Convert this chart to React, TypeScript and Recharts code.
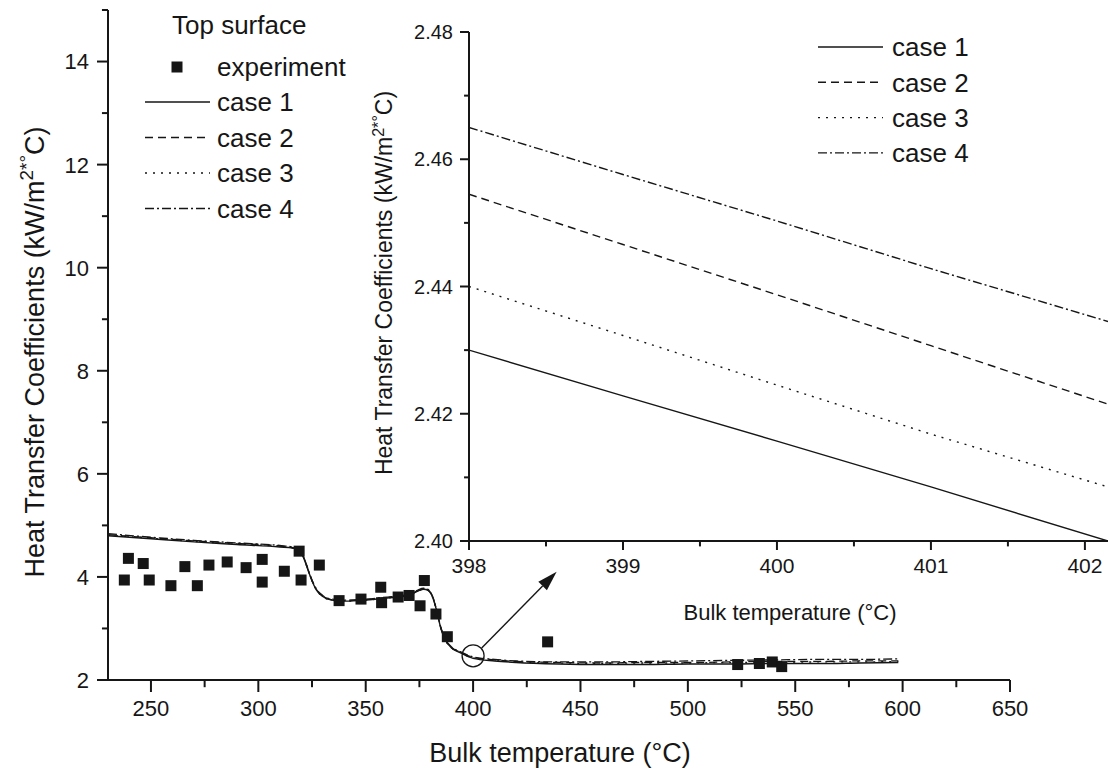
import React from 'react';
import {
  ComposedChart,
  LineChart,
  Line,
  Scatter,
  XAxis,
  YAxis,
  ReferenceDot,
  ReferenceLine,
  Legend,
} from 'recharts';

const FONT = '"Liberation Sans", Arial, Helvetica, sans-serif';
const INK = '#161616';

// ---- main chart: simulated curves (bulk temperature, °C) ----
const mainTemps = [
  230, 250, 270, 290, 310, 316, 319, 321, 323, 325, 327, 330, 334, 340, 350, 360, 370, 374, 377,
  379, 381, 383, 385, 387, 390, 394, 400, 410, 420, 440, 460, 480, 500, 520, 540, 560, 580, 598,
];
const case1Main = [
  4.8, 4.74, 4.68, 4.63, 4.58, 4.56, 4.52, 4.38, 4.15, 3.92, 3.75, 3.62, 3.55, 3.53, 3.55, 3.59, 3.64,
  3.72, 3.76, 3.74, 3.62, 3.35, 3.0, 2.78, 2.62, 2.53, 2.42, 2.37, 2.34, 2.31, 2.3, 2.3, 2.31, 2.31,
  2.32, 2.32, 2.33, 2.34,
];
const case2Main = [
  4.82, 4.76, 4.7, 4.65, 4.6, 4.57, 4.53, 4.39, 4.16, 3.93, 3.76, 3.63, 3.56, 3.54, 3.56, 3.6, 3.65,
  3.73, 3.77, 3.75, 3.63, 3.36, 3.01, 2.79, 2.63, 2.54, 2.44, 2.39, 2.36, 2.34, 2.33, 2.34, 2.34,
  2.35, 2.36, 2.36, 2.37, 2.37,
];
const case3Main = [
  4.81, 4.75, 4.69, 4.64, 4.59, 4.56, 4.52, 4.38, 4.15, 3.92, 3.75, 3.62, 3.55, 3.53, 3.55, 3.59,
  3.64, 3.72, 3.76, 3.74, 3.62, 3.35, 3.0, 2.78, 2.62, 2.53, 2.43, 2.38, 2.35, 2.33, 2.32, 2.33, 2.33,
  2.34, 2.34, 2.35, 2.35, 2.36,
];
const case4Main = [
  4.84, 4.77, 4.71, 4.66, 4.61, 4.58, 4.54, 4.4, 4.17, 3.94, 3.77, 3.64, 3.57, 3.55, 3.57, 3.61, 3.66,
  3.74, 3.78, 3.76, 3.64, 3.37, 3.02, 2.8, 2.64, 2.55, 2.45, 2.4, 2.37, 2.35, 2.35, 2.36, 2.37, 2.38,
  2.39, 2.4, 2.4, 2.41,
];

// ---- main chart: experiment ----
const expTemps = [
  237.6, 239.5, 246.4, 249.2, 259.3, 265.8, 271.6, 277.0, 285.5, 294.3, 301.8, 301.8, 312.1, 319.0,
  319.9, 328.4, 337.6, 347.8, 357.0, 357.4, 365.1, 370.2, 375.3, 377.3, 382.7, 388.0, 434.7, 523.2,
  533.3, 539.3, 543.7,
];
const expHtc = [
  3.94, 4.36, 4.26, 3.94, 3.83, 4.2, 3.83, 4.23, 4.29, 4.18, 4.34, 3.9, 4.11, 4.5, 3.94, 4.23, 3.54,
  3.57, 3.8, 3.5, 3.61, 3.64, 3.44, 3.93, 3.28, 2.84, 2.74, 2.3, 2.32, 2.35, 2.26,
];

// ---- inset (zoom around 400 °C) ----
const insetTemps = [398, 399, 400, 401, 402.15];
const case1Inset = [2.43, 2.4228, 2.4157, 2.4085, 2.4];
const case2Inset = [2.4545, 2.4466, 2.4387, 2.4307, 2.4215];
const case3Inset = [2.44, 2.4323, 2.4245, 2.4168, 2.4085];
const case4Inset = [2.465, 2.4576, 2.4503, 2.4428, 2.4345];

// ticks
const mainXMajor = [250, 300, 350, 400, 450, 500, 550, 600, 650];
const mainXMinor = [275, 325, 375, 425, 475, 525, 575, 625];
const mainYMajor = [2, 4, 6, 8, 10, 12, 14];
const mainYMinor = [3, 5, 7, 9, 11, 13, 15];
const insetXMajor = [398, 399, 400, 401, 402];
const insetXMinor = [398.5, 399.5, 400.5, 401.5];
const insetYMajor = [2.4, 2.42, 2.44, 2.46, 2.48];
const insetYMinor = [2.41, 2.43, 2.45, 2.47];

const seriesNames = ['case 1', 'case 2', 'case 3', 'case 4'];
const dashes = ['', '8 5', '2 6', '9 3 2 3'];

const mainRows = mainTemps.map((t, i) => ({
  t,
  c1: case1Main[i],
  c2: case2Main[i],
  c3: case3Main[i],
  c4: case4Main[i],
}));
const expRows = expTemps.map((t, i) => ({ t, h: expHtc[i] }));
const insetRows = insetTemps.map((t, i) => ({
  t,
  c1: case1Inset[i],
  c2: case2Inset[i],
  c3: case3Inset[i],
  c4: case4Inset[i],
}));

const makeYTick = (major: number[], fontSize: number, len: number, gap: number, fmt: (v: number) => string) =>
  (props: any) => {
    const { x, y, payload } = props;
    const isMajor = major.includes(payload.value);
    return (
      <g>
        <line x1={x - (isMajor ? len : len * 0.55)} x2={x} y1={y} y2={y} stroke={INK} strokeWidth={2} />
        {isMajor && (
          <text x={x - gap} y={y} dy="0.36em" textAnchor="end" fontSize={fontSize} fontFamily={FONT} fill={INK}>
            {fmt(payload.value)}
          </text>
        )}
      </g>
    );
  };

const makeXTick = (major: number[], fontSize: number, len: number, base: number) => (props: any) => {
  const { x, y, payload } = props;
  const isMajor = major.includes(payload.value);
  return (
    <g>
      <line x1={x} x2={x} y1={y} y2={y + (isMajor ? len : len * 0.6)} stroke={INK} strokeWidth={2} />
      {isMajor && (
        <text x={x} y={y + base} textAnchor="middle" fontSize={fontSize} fontFamily={FONT} fill={INK}>
          {payload.value}
        </text>
      )}
    </g>
  );
};

const Arrow = (props: any) => {
  const { x1, y1, x2, y2 } = props;
  const a = Math.atan2(y2 - y1, x2 - x1);
  const L = 20;
  const W = 6;
  const bx = x2 - L * Math.cos(a);
  const by = y2 - L * Math.sin(a);
  const px = -Math.sin(a) * W;
  const py = Math.cos(a) * W;
  return (
    <g>
      <line x1={x1} y1={y1} x2={bx} y2={by} stroke={INK} strokeWidth={1.4} />
      <polygon points={`${x2},${y2} ${bx + px},${by + py} ${bx - px},${by - py}`} fill={INK} />
    </g>
  );
};

const MainLegend = () => (
  <svg width={360} height={230} style={{ overflow: 'visible' }}>
    <text x={172} y={25} dy="0.36em" fontSize={26} fontFamily={FONT} fill={INK}>
      Top surface
    </text>
    <rect x={171.5} y={61.5} width={11} height={11} fill={INK} />
    <text x={217} y={67} dy="0.36em" fontSize={26} fontFamily={FONT} fill={INK}>
      experiment
    </text>
    {seriesNames.map((n, i) => (
      <g key={n}>
        <line x1={145} x2={210} y1={102 + i * 35.5} y2={102 + i * 35.5} stroke={INK} strokeWidth={1.4} strokeDasharray={dashes[i]} />
        <text x={217} y={102 + i * 35.5} dy="0.36em" fontSize={26} fontFamily={FONT} fill={INK}>
          {n}
        </text>
      </g>
    ))}
  </svg>
);

const InsetLegend = () => (
  <svg width={700} height={180} style={{ overflow: 'visible' }}>
    {seriesNames.map((n, i) => (
      <g key={n}>
        <line x1={458} x2={523} y1={47 + i * 35.3} y2={47 + i * 35.3} stroke={INK} strokeWidth={1.4} strokeDasharray={dashes[i]} />
        <text x={532} y={47 + i * 35.3} dy="0.36em" fontSize={26} fontFamily={FONT} fill={INK}>
          {n}
        </text>
      </g>
    ))}
  </svg>
);

const YTitle = ({ cx, cy, size }: { cx: number; cy: number; size: number }) => (
  <text
    x={cx}
    y={cy}
    transform={`rotate(-90 ${cx} ${cy})`}
    textAnchor="middle"
    dy="0.36em"
    fontSize={size}
    fontFamily={FONT}
    fill={INK}
  >
    Heat Transfer Coefficients (kW/m
    <tspan dy={-size * 0.38} fontSize={size * 0.7}>2</tspan>
    <tspan fontSize={size * 0.7}>*°</tspan>
    <tspan dy={size * 0.38}>C)</tspan>
  </text>
);

const XTitle = ({ cx, cy, size }: { cx: number; cy: number; size: number }) => (
  <text x={cx} y={cy} textAnchor="middle" dy="0.36em" fontSize={size} fontFamily={FONT} fill={INK}>
    Bulk temperature (°C)
  </text>
);

export default function App() {
  return (
    <div style={{ position: 'absolute', left: 0, top: 0, width: 1109, height: 778, background: '#fff', fontFamily: FONT }}>
      <ComposedChart width={1109} height={778} data={mainRows} margin={{ top: 10, right: 99, bottom: 38, left: 48 }}>
        <XAxis
          type="number"
          dataKey="t"
          domain={[230, 650]}
          allowDataOverflow
          ticks={[...mainXMajor, ...mainXMinor].sort((a, b) => a - b)}
          interval={0}
          tickSize={0}
          tickMargin={0}
          tickLine={false}
          height={60}
          axisLine={{ stroke: INK, strokeWidth: 2 }}
          tick={makeXTick(mainXMajor, 22, 12, 36)}
          label={() => <XTitle cx={560} cy={752} size={27} />}
        />
        <YAxis
          type="number"
          domain={[2, 15]}
          allowDataOverflow
          ticks={[...mainYMajor, ...mainYMinor].sort((a, b) => a - b)}
          interval={0}
          tickSize={0}
          tickMargin={0}
          tickLine={false}
          width={60}
          axisLine={{ stroke: INK, strokeWidth: 2 }}
          tick={makeYTick(mainYMajor, 22, 11, 19, (v) => String(v))}
          label={() => <YTitle cx={34} cy={352} size={27} />}
        />
        <Line type="monotone" dataKey="c1" stroke={INK} strokeWidth={1.4} dot={false} isAnimationActive={false} />
        <Line type="monotone" dataKey="c2" stroke={INK} strokeWidth={1.3} strokeDasharray={dashes[1]} dot={false} isAnimationActive={false} />
        <Line type="monotone" dataKey="c3" stroke={INK} strokeWidth={1.3} strokeDasharray={dashes[2]} dot={false} isAnimationActive={false} />
        <Line type="monotone" dataKey="c4" stroke={INK} strokeWidth={1.3} strokeDasharray={dashes[3]} dot={false} isAnimationActive={false} />
        <Scatter
          data={expRows}
          dataKey="h"
          isAnimationActive={false}
          shape={(p: any) => <rect x={p.cx - 5.5} y={p.cy - 5.5} width={11} height={11} fill={INK} />}
        />
        <ReferenceDot x={400} y={2.47} r={11} fill="none" stroke={INK} strokeWidth={1.3} />
        <ReferenceLine
          segment={[
            { x: 404.0, y: 2.62 },
            { x: 438.9, y: 4.1 },
          ]}
          shape={Arrow}
        />
        <Legend
          layout="vertical"
          align="center"
          verticalAlign="middle"
          wrapperStyle={{ left: 0, top: 0, width: 360, height: 230 }}
          content={() => <MainLegend />}
        />
      </ComposedChart>

      <div style={{ position: 'absolute', left: 360, top: 0, width: 749, height: 640 }}>
        <LineChart width={749} height={640} data={insetRows} margin={{ top: 32, right: 1, bottom: 39, left: 49 }}>
          <XAxis
            type="number"
            dataKey="t"
            domain={[398, 402.15]}
            allowDataOverflow
            ticks={[...insetXMajor, ...insetXMinor].sort((a, b) => a - b)}
            interval={0}
            tickSize={0}
            tickMargin={0}
            tickLine={false}
            height={60}
            axisLine={{ stroke: INK, strokeWidth: 2 }}
            tick={makeXTick(insetXMajor, 21, 9, 32)}
            label={() => <XTitle cx={430} cy={612} size={22} />}
          />
          <YAxis
            type="number"
            domain={[2.4, 2.48]}
            allowDataOverflow
            ticks={[...insetYMajor, ...insetYMinor].sort((a, b) => a - b)}
            interval={0}
            tickSize={0}
            tickMargin={0}
            tickLine={false}
            width={60}
            axisLine={{ stroke: INK, strokeWidth: 2 }}
            tick={makeYTick(insetYMajor, 20, 9, 16, (v) => v.toFixed(2))}
            label={() => <YTitle cx={24} cy={283} size={23} />}
          />
          <Line type="linear" dataKey="c1" stroke={INK} strokeWidth={1.4} dot={false} isAnimationActive={false} />
          <Line type="linear" dataKey="c2" stroke={INK} strokeWidth={1.4} strokeDasharray={dashes[1]} dot={false} isAnimationActive={false} />
          <Line type="linear" dataKey="c3" stroke={INK} strokeWidth={1.4} strokeDasharray={dashes[2]} dot={false} isAnimationActive={false} />
          <Line type="linear" dataKey="c4" stroke={INK} strokeWidth={1.4} strokeDasharray={dashes[3]} dot={false} isAnimationActive={false} />
          <Legend
            layout="vertical"
            align="center"
            verticalAlign="middle"
            wrapperStyle={{ left: 0, top: 0, width: 700, height: 180 }}
            content={() => <InsetLegend />}
          />
        </LineChart>
      </div>
    </div>
  );
}
